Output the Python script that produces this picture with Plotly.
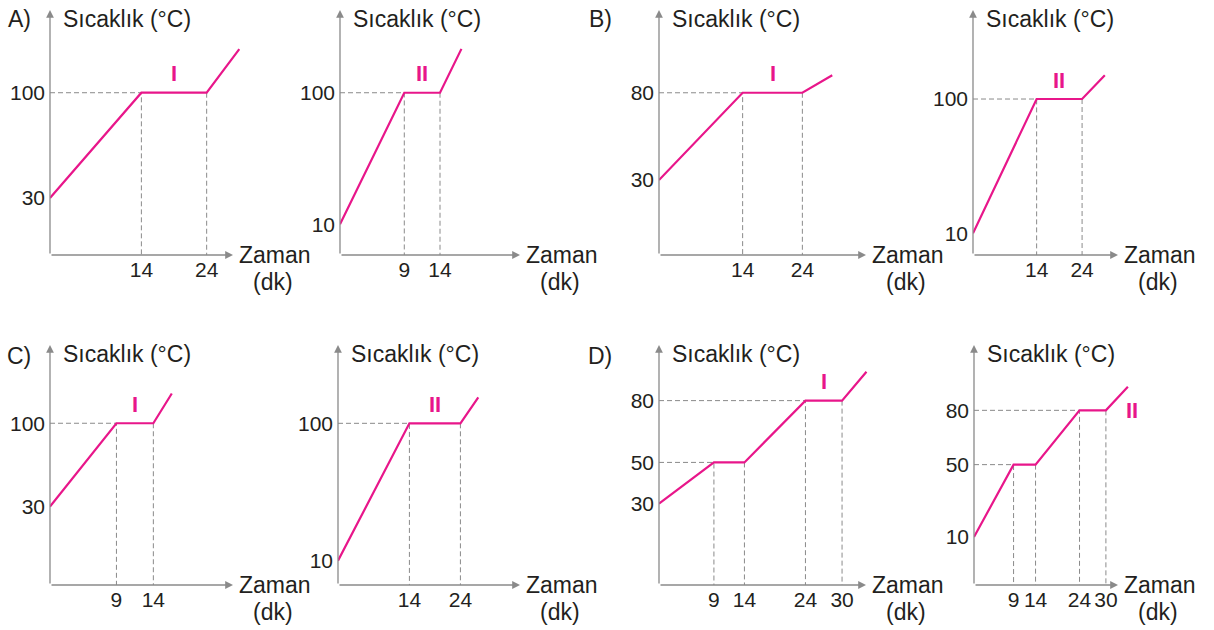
import plotly.graph_objects as go

W, H = 1214, 630
MAGENTA = "#e8168a"
GRAY = "#8a8a8a"
INK = "#231f20"
FONT = "Liberation Sans, Arial, Helvetica, sans-serif"

# heating curves: time (dk) and temperature (°C) at each break point
a1_time = [0, 14, 24, 29]
a1_temp = [30, 100, 100, 129]
a2_time = [0, 9, 14, 17]
a2_temp = [10, 100, 100, 130]

b1_time = [0, 14, 24, 29]
b1_temp = [30, 80, 80, 90]
b2_time = [0, 14, 24, 29]
b2_temp = [10, 100, 100, 116]

c1_time = [0, 9, 14, 16.5]
c1_temp = [30, 100, 100, 125]
c2_time = [0, 14, 24, 27.5]
c2_temp = [10, 100, 100, 117]

d1_time = [0, 9, 14, 24, 30, 34]
d1_temp = [30, 50, 50, 80, 80, 94]
d2_time = [0, 9, 14, 24, 30, 35]
d2_temp = [10, 50, 50, 80, 80, 93]

options = ["A)", "B)", "C)", "D)"]
substances = ["I", "II"]

panels = [
    (a1_time, a1_temp, substances[0]),
    (a2_time, a2_temp, substances[1]),
    (b1_time, b1_temp, substances[0]),
    (b2_time, b2_temp, substances[1]),
    (c1_time, c1_temp, substances[0]),
    (c2_time, c2_temp, substances[1]),
    (d1_time, d1_temp, substances[0]),
    (d2_time, d2_temp, substances[1]),
]

# frame of every small chart in pixels (origin, arrow lengths) + axis ranges
EXTRA = 20
frames = [
    dict(ox=50, oy=255, lx=183, ly=245, xmax=31.1, yr=(-7.9, 155.0), tag="top"),
    dict(ox=340, oy=255, lx=180, ly=245, xmax=28.0, yr=(-11.0, 156.6), tag="top"),
    dict(ox=659, oy=255, lx=207, ly=245, xmax=38.0, yr=(-12.9, 127.4), tag="top"),
    dict(ox=973, oy=255, lx=145, ly=245, xmax=36.3, yr=(-4.6, 159.7), tag="top"),
    dict(ox=50, oy=585, lx=183, ly=240, xmax=27.5, yr=(-35.8, 165.7), tag="top"),
    dict(ox=338, oy=585, lx=182, ly=240, xmax=39.6, yr=(-5.9, 151.3), tag="top"),
    dict(ox=659, oy=585, lx=207, ly=240, xmax=37.2, yr=(-9.5, 107.0), tag="top"),
    dict(ox=974, oy=585, lx=144, ly=240, xmax=37.3, yr=(-16.5, 116.1), tag="end"),
]

letter_pos = [(33, 19), (614, 19), (33, 356), (614, 356)]

fig = go.Figure()
layout = {}
ann = []

for i, ((t, v, name), f) in enumerate(zip(panels, frames), start=1):
    sfx = "" if i == 1 else str(i)
    xa, ya = "x" + sfx, "y" + sfx
    y0 = f["yr"][0]

    # dashed guides for every plateau
    for j in range(1, len(t) - 1):
        if v[j] == v[j + 1]:
            fig.add_trace(go.Scatter(
                x=[0, t[j], t[j], None, t[j + 1], t[j + 1]],
                y=[v[j], v[j], y0, None, v[j + 1], y0],
                mode="lines", line=dict(color=GRAY, width=1, dash="5px,3px"),
                xaxis=xa, yaxis=ya, hoverinfo="skip", showlegend=False,
            ))

    fig.add_trace(go.Scatter(
        x=t, y=v, mode="lines", line=dict(color=MAGENTA, width=2.2),
        xaxis=xa, yaxis=ya, showlegend=False,
    ))

    wx = f["lx"] + EXTRA
    xt = t[1:-1]
    yt = sorted(set(v[:-1]))
    layout["xaxis" + sfx] = dict(
        domain=[f["ox"] / W, (f["ox"] + wx) / W], range=[0, f["xmax"]],
        anchor=ya, tickvals=xt, ticktext=[str(x) for x in xt], ticks="",
        tickangle=0, showgrid=False, zeroline=False, showline=False,
        tickfont=dict(size=21, color=INK), fixedrange=True,
    )
    layout["yaxis" + sfx] = dict(
        domain=[1 - f["oy"] / H, 1 - (f["oy"] - f["ly"]) / H], range=list(f["yr"]),
        anchor=xa, tickvals=yt, ticktext=[str(y) for y in yt], ticks="",
        ticklabelstandoff=4,
        showgrid=False, zeroline=False, showline=False,
        tickfont=dict(size=21, color=INK), fixedrange=True,
    )

    xd, yd = xa + " domain", ya + " domain"
    tip = f["lx"] / wx
    arrow = dict(showarrow=True, text="", arrowhead=2, arrowsize=1.2,
                 arrowwidth=1.3, arrowcolor=GRAY, axref="pixel", ayref="pixel")
    ann.append(dict(xref=xd, yref=yd, x=0, y=1, ax=0, ay=f["ly"], **arrow))
    ann.append(dict(xref=xd, yref=yd, x=tip, y=0, ax=-f["lx"], ay=0, **arrow))
    ann.append(dict(xref=xd, yref=yd, x=0, y=1, xanchor="left", yanchor="middle",
                    xshift=11, yshift=-9, text="Sıcaklık (°C)", showarrow=False,
                    font=dict(size=23, color=INK)))
    ann.append(dict(xref=xd, yref=yd, x=tip, y=0, xanchor="left", yanchor="middle",
                    xshift=4, text="Zaman", showarrow=False,
                    font=dict(size=23, color=INK)))
    ann.append(dict(xref=xd, yref=yd, x=tip, y=0, xanchor="center", yanchor="middle",
                    xshift=40, yshift=-27, text="(dk)", showarrow=False,
                    font=dict(size=23, color=INK)))

    # substance label
    if f["tag"] == "end":
        ann.append(dict(xref=xa, yref=ya, x=t[-1], y=v[-2], xshift=4,
                        text="<b>" + name + "</b>", showarrow=False,
                        font=dict(size=22, color=MAGENTA)))
    else:
        ann.append(dict(xref=xa, yref=ya, x=(t[-3] + t[-2]) / 2, y=v[-2], yshift=19,
                        text="<b>" + name + "</b>", showarrow=False,
                        font=dict(size=22, color=MAGENTA)))

for letter, (lx, ly) in zip(options, letter_pos):
    ann.append(dict(xref="paper", yref="paper", x=lx / W, y=1 - ly / H,
                    xanchor="right", yanchor="middle", text=letter, showarrow=False,
                    font=dict(size=23, color=INK)))

fig.update_layout(
    **layout,
    annotations=ann,
    width=W, height=H,
    margin=dict(l=0, r=0, t=0, b=0),
    paper_bgcolor="white", plot_bgcolor="white",
    font=dict(family=FONT, color=INK),
    showlegend=False,
)

# drop the page's default body margin so the figure sits at the window corner
fig.write_html("out.html", config={"displayModeBar": False},
               post_script="document.body.style.margin = '0';")
